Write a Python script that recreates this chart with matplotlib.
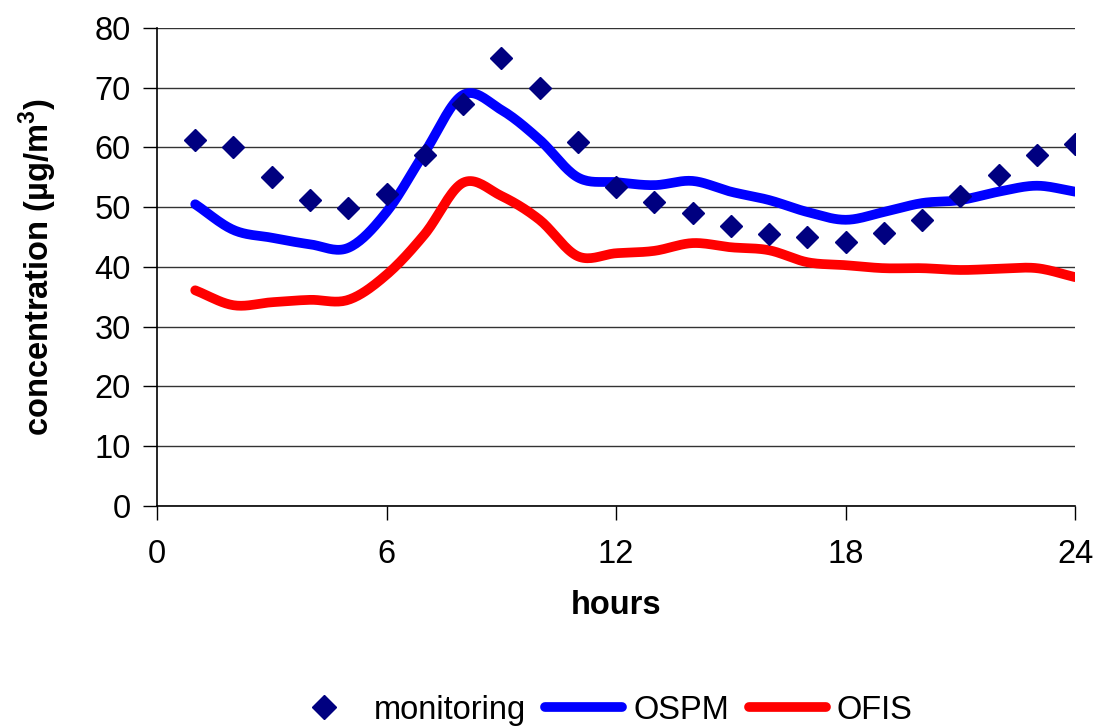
import numpy as np
import matplotlib
matplotlib.use('Agg')
import matplotlib.pyplot as plt
from matplotlib.lines import Line2D

plt.rcParams['font.family'] = ['Liberation Sans', 'DejaVu Sans']
plt.rcParams['mathtext.fontset'] = 'custom'
plt.rcParams['mathtext.rm'] = 'Liberation Sans'
plt.rcParams['mathtext.bf'] = 'Liberation Sans:bold'

# data
hours = list(range(1, 25))
monitoring = [61.3, 60.1, 55.1, 51.2, 49.9, 52.2, 58.7, 67.3, 75.0, 70.0, 60.9, 53.4,
              50.9, 49.0, 46.9, 45.5, 45.0, 44.2, 45.7, 47.9, 51.9, 55.4, 58.7, 60.6]
ospm = [50.5, 46.2, 44.9, 43.8, 43.2, 49.2, 59.2, 68.8, 66.3, 61.3, 55.0, 54.2,
        53.7, 54.4, 52.6, 51.2, 49.2, 47.9, 49.2, 50.7, 51.2, 52.6, 53.6, 52.6]
ofis = [36.1, 33.6, 34.1, 34.5, 34.5, 38.7, 45.5, 54.1, 51.9, 47.9, 41.8, 42.3,
        42.7, 44.0, 43.3, 42.8, 40.8, 40.3, 39.8, 39.8, 39.5, 39.7, 39.8, 38.3]


def smooth(x, y, n=20):
    # Catmull-Rom curve through the points, like Excel's smoothed line
    x = np.asarray(x, float)
    y = np.asarray(y, float)
    px = np.concatenate([[2 * x[0] - x[1]], x, [2 * x[-1] - x[-2]]])
    py = np.concatenate([[2 * y[0] - y[1]], y, [2 * y[-1] - y[-2]]])
    xs, ys = [], []
    t = np.linspace(0, 1, n, endpoint=False)
    for i in range(1, len(px) - 2):
        for p, out in ((px, xs), (py, ys)):
            p0, p1, p2, p3 = p[i - 1], p[i], p[i + 1], p[i + 2]
            out.extend(0.5 * (2 * p1 + (-p0 + p2) * t + (2 * p0 - 5 * p1 + 4 * p2 - p3) * t ** 2
                              + (-p0 + 3 * p1 - 3 * p2 + p3) * t ** 3))
    xs.append(x[-1])
    ys.append(y[-1])
    return np.array(xs), np.array(ys)


fig = plt.figure(figsize=(10.96, 7.27), dpi=100)
ax = fig.add_axes([0.1432, 0.304, 0.981 - 0.1432, 0.9615 - 0.304])

sx, sy = smooth(hours, ospm)
ax.plot(sx, sy, color='#0000ff', lw=7, solid_capstyle='round', zorder=3)
sx, sy = smooth(hours, ofis)
ax.plot(sx, sy, color='#ff0000', lw=7, solid_capstyle='round', zorder=3)
ax.plot(hours, monitoring, linestyle='none', marker='D', markersize=11,
        color='#000080', zorder=4)

ax.set_xlim(0, 24)
ax.set_ylim(0, 80)
ax.set_xticks([0, 6, 12, 18, 24])
ax.set_yticks(range(0, 81, 10))
ax.yaxis.grid(True, color='#333333', lw=1)
ax.set_axisbelow(True)
for s in ('top', 'right'):
    ax.spines[s].set_visible(False)
ax.spines['left'].set_linewidth(1.2)
ax.spines['bottom'].set_linewidth(1.2)
ax.tick_params(axis='both', labelsize=23.5, length=10, width=1, direction='out')
ax.tick_params(axis='x', pad=14)
ax.tick_params(axis='y', pad=9)

ax.set_xlabel('hours', fontsize=23.5, fontweight='bold', labelpad=14)
ax.set_ylabel(r'concentration (µg/m$^\mathbf{3}$)', fontsize=23.5, fontweight='bold', labelpad=25)

handles = [Line2D([], [], linestyle='none', marker='D', markersize=12, color='#000080'),
           Line2D([], [], color='#0000ff', lw=7, solid_capstyle='round'),
           Line2D([], [], color='#ff0000', lw=7, solid_capstyle='round')]
fig.legend(handles, ['monitoring', 'OSPM', 'OFIS'], loc='center', bbox_to_anchor=(0.5465, 0.023),
           ncol=3, frameon=False, fontsize=23.5, handlelength=2.36, handletextpad=0.33,
           columnspacing=0.6)

fig.savefig('out.png', dpi=100)
